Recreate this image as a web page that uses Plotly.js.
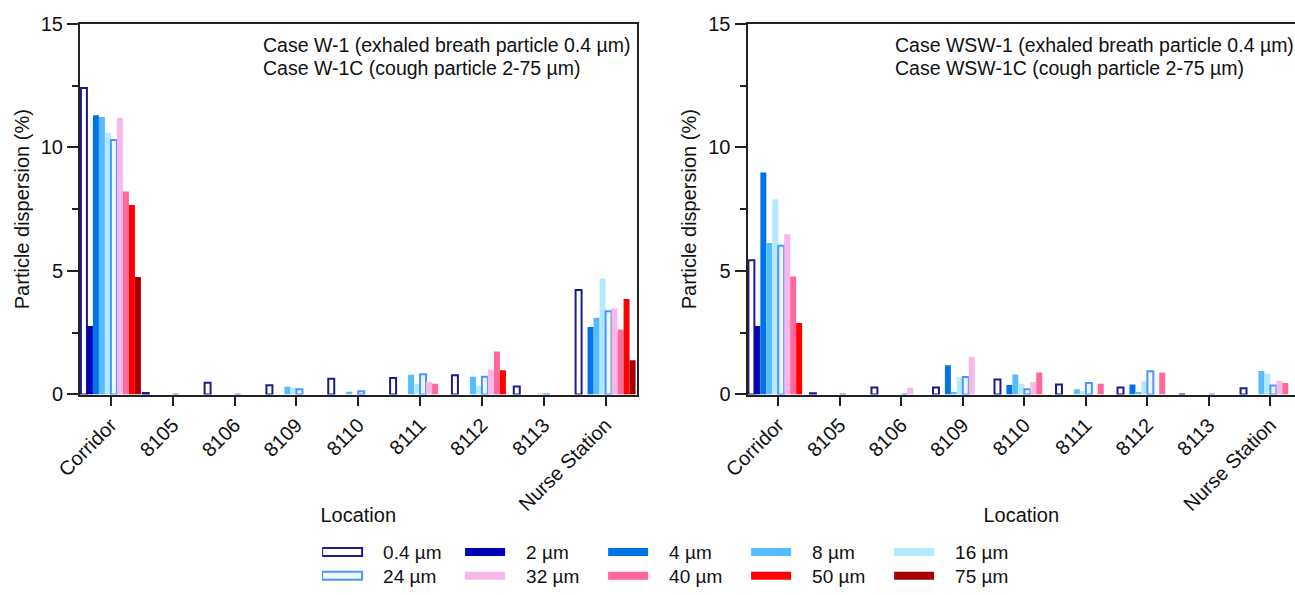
<!DOCTYPE html>
<html><head><meta charset="utf-8">
<script src="https://cdn.plot.ly/plotly-3.0.1.min.js"></script>
<style>
html,body{margin:0;padding:0;background:#fff}
/* wide, flat legend keys like the original figure */
g.legendpoints path{transform:translate(20px,0px) scale(3.333,0.667) !important;vector-effect:non-scaling-stroke}
text.legendtext,text.legend2text{transform:translate(21px,0px) !important}
.g-xtitle text,.g-x2title text{transform:translate(0px,-6px) !important}
</style>
</head><body><div id="chart" style="width:1295px;height:595px"></div>
<script>
// ---- data ----
const locations = ['Corridor', '8105', '8106', '8109', '8110', '8111', '8112', '8113', 'Nurse Station'];
const sizeLabels = ['0.4 \u00b5m', '2 \u00b5m', '4 \u00b5m', '8 \u00b5m', '16 \u00b5m', '24 \u00b5m', '32 \u00b5m', '40 \u00b5m', '50 \u00b5m', '75 \u00b5m'];

// Case W-1 / W-1C (left panel)
const w_0p4 = [12.40, 0.06, 0.48, 0.37, 0.64, 0.67, 0.78, 0.32, 4.23];
const w_2   = [2.77, 0, 0, 0, 0, 0, 0, 0, 0];
const w_4   = [11.30, 0, 0, 0, 0, 0, 0, 0, 2.73];
const w_8   = [11.23, 0, 0, 0.31, 0.11, 0.80, 0.72, 0, 3.11];
const w_16  = [10.59, 0, 0, 0.27, 0, 0.44, 0.33, 0.05, 4.69];
const w_24  = [10.30, 0, 0, 0.21, 0.13, 0.82, 0.72, 0, 3.37];
const w_32  = [11.20, 0, 0, 0, 0, 0.51, 1.00, 0, 3.49];
const w_40  = [8.22, 0, 0, 0, 0, 0.44, 1.74, 0, 2.63];
const w_50  = [7.67, 0, 0, 0, 0, 0, 0.98, 0, 3.87];
const w_75  = [4.76, 0, 0, 0, 0, 0, 0, 0, 1.39];

// Case WSW-1 / WSW-1C (right panel)
const wsw_0p4 = [5.43, 0.05, 0.28, 0.28, 0.61, 0.40, 0.28, 0, 0.25];
const wsw_2   = [2.77, 0, 0, 0, 0, 0, 0, 0, 0];
const wsw_4   = [8.98, 0, 0, 1.18, 0.38, 0, 0.40, 0, 0];
const wsw_8   = [6.13, 0, 0, 0.10, 0.81, 0.21, 0.10, 0, 0.95];
const wsw_16  = [7.90, 0, 0, 0.70, 0.44, 0.13, 0.54, 0, 0.84];
const wsw_24  = [6.02, 0, 0, 0.71, 0.21, 0.47, 0.94, 0, 0.36];
const wsw_32  = [6.49, 0, 0.27, 1.52, 0.51, 0, 0, 0, 0.55];
const wsw_40  = [4.78, 0, 0, 0, 0.89, 0.44, 0.89, 0, 0.47];
const wsw_50  = [2.89, 0, 0, 0, 0, 0, 0, 0, 0];
const wsw_75  = [0, 0, 0, 0, 0, 0, 0, 0, 0];

const annotW = ['Case W-1 (exhaled breath particle 0.4 \u00b5m)', 'Case W-1C (cough particle 2-75 \u00b5m)'];
const annotWSW = ['Case WSW-1 (exhaled breath particle 0.4 \u00b5m)', 'Case WSW-1C (cough particle 2-75 \u00b5m)'];

// ---- styles ----
const leftSeries = [w_0p4, w_2, w_4, w_8, w_16, w_24, w_32, w_40, w_50, w_75];
const rightSeries = [wsw_0p4, wsw_2, wsw_4, wsw_8, wsw_16, wsw_24, wsw_32, wsw_40, wsw_50, wsw_75];
const fills = ['#ffffff', '#0000b4', '#0074e6', '#55bdff', '#b3e9ff', '#eef8ff', '#f8b8ea', '#ff6898', '#ff0000', '#a80000'];
const outlines = ['#1b1b8f', null, null, null, null, '#4d94ff', null, null, null, null];

const FONT = 'Liberation Sans, Arial, Helvetica, sans-serif';
const traces = [];
function addSet(series, xa, ya, showLeg) {
  series.forEach((vals, i) => {
    const ol = outlines[i];
    traces.push({
      type: 'bar', x: locations, y: vals, name: sizeLabels[i],
      xaxis: xa, yaxis: ya, legendgroup: 'g' + i, showlegend: showLeg,
      legend: i < 5 ? 'legend' : 'legend2',
      marker: { color: fills[i], line: { color: ol || fills[i], width: ol ? 2 : 0 } },
      hoverinfo: 'x+y+name'
    });
  });
}
addSet(leftSeries, 'x', 'y', true);
addSet(rightSeries, 'x2', 'y2', false);

const yDom = [1 - 396.5 / 595, 1 - 24 / 595];
function xAxis(domain, range, anchor) {
  return {
    domain: domain, range: range, type: 'category', anchor: anchor,
    tickangle: -45, ticks: 'outside', ticklen: 9, tickwidth: 2, tickcolor: '#222',
    showline: true, linewidth: 2, linecolor: '#222', mirror: true,
    showgrid: false, zeroline: false, automargin: false,
    tickfont: { family: FONT, size: 20, color: '#111' },
    title: { text: 'Location', standoff: 0, font: { family: FONT, size: 20, color: '#111' } }
  };
}
function yAxis(anchor) {
  return {
    domain: yDom, range: [0, 15], anchor: anchor, tickvals: [0, 5, 10, 15],
    ticks: 'outside', ticklen: 11, tickwidth: 2, tickcolor: '#222',
    minor: { dtick: 2.5, ticks: 'outside', ticklen: 6, tickwidth: 2, tickcolor: '#222', showgrid: false },
    showline: true, linewidth: 2, linecolor: '#222', mirror: true,
    showgrid: false, zeroline: false, automargin: false,
    tickfont: { family: FONT, size: 20, color: '#111' },
    title: { text: 'Particle dispersion (%)', font: { family: FONT, size: 20, color: '#111' } }
  };
}
function ann(text, x, yPx) {
  return { text: text, xref: 'paper', yref: 'paper', x: x, y: 1 - yPx / 595,
    xanchor: 'left', yanchor: 'middle', showarrow: false, align: 'left',
    font: { family: FONT, size: 19.5, color: '#111' } };
}
const legBase = { orientation: 'h', xanchor: 'center', x: 0.5248, yanchor: 'middle',
  entrywidth: 98, entrywidthmode: 'pixels', font: { family: FONT, size: 19, color: '#111' },
  bgcolor: 'rgba(0,0,0,0)', traceorder: 'normal' };

const layout = {
  width: 1295, height: 595,
  margin: { l: 0, r: 0, t: 0, b: 0 },
  paper_bgcolor: '#fff', plot_bgcolor: '#fff',
  font: { family: FONT, color: '#111' },
  barmode: 'group', bargap: 0.03, bargroupgap: 0,
  xaxis: xAxis([80 / 1295, 636.5 / 1295], [-0.5, 8.5], 'y'),
  yaxis: yAxis('x'),
  xaxis2: xAxis([747.5 / 1295, 1], [-0.5, 8.4], 'y2'),
  yaxis2: yAxis('x2'),
  legend: Object.assign({}, legBase, { y: 1 - 555 / 595 }),
  legend2: Object.assign({}, legBase, { y: 1 - 579 / 595 }),
  annotations: [
    ann(annotW[0], 261 / 1295, 45), ann(annotW[1], 261 / 1295, 68),
    ann(annotWSW[0], 893 / 1295, 45), ann(annotWSW[1], 893 / 1295, 68)
  ],
  showlegend: true
};

Plotly.newPlot('chart', traces, layout, { displayModeBar: false, responsive: false });
</script></body></html>
